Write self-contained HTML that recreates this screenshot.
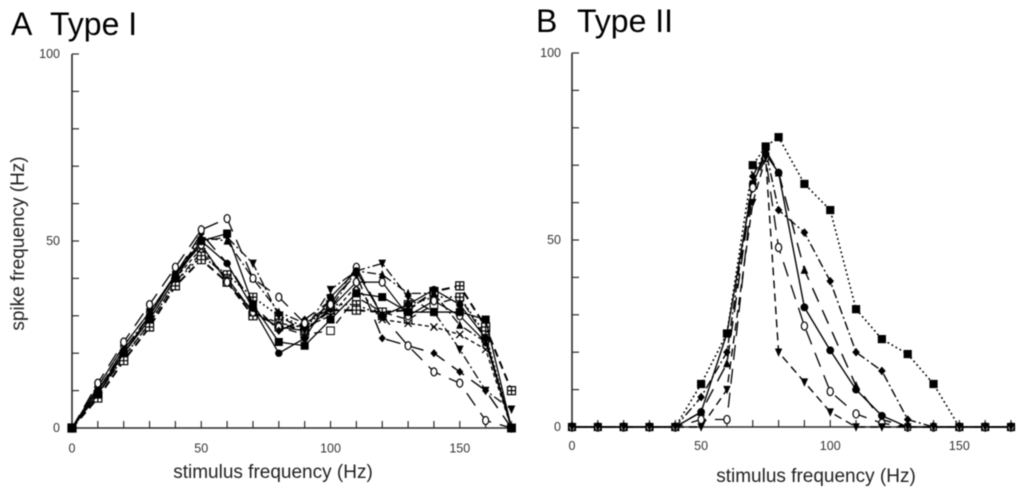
<!DOCTYPE html>
<html>
<head>
<meta charset="utf-8">
<style>
html,body{margin:0;padding:0;background:#fff;width:1024px;height:494px;overflow:hidden}
svg{display:block;font-family:"Liberation Sans",sans-serif}
</style>
</head>
<body>
<svg id="fig" width="1024" height="494" viewBox="0 0 1024 494" xmlns="http://www.w3.org/2000/svg">
<rect width="1024" height="494" fill="#fff"/>
<g id="root" style="filter:blur(0.55px)">
<text x="11" y="35" font-size="32" fill="#000">A</text>
<text x="50" y="35" font-size="32" fill="#000">Type I</text>
<text x="536" y="32" font-size="32" fill="#000">B</text>
<text x="577" y="32" font-size="32" fill="#000">Type II</text>
<text transform="translate(24 243.5) rotate(-90)" text-anchor="middle" font-size="19" fill="#222">spike frequency (Hz)</text>
<text x="273" y="478" text-anchor="middle" font-size="19" fill="#222">stimulus frequency (Hz)</text>
<text x="816" y="482" text-anchor="middle" font-size="19" fill="#222">stimulus frequency (Hz)</text>
</g>
</svg>
<script>
var xTicks = [0,10,20,30,40,50,60,70,80,90,100,110,120,130,140,150,160,170];
var yTicks = [0,10,20,30,40,50,60,70,80,90,100];
var xLabels = [0,50,100,150];
var yLabels = [0,50,100];

var freqA = [0,10,20,30,40,50,60,70,80,90,100,110,120,130,140,150,160,170];
var openSquareA   = [0,9,19,28,39,47,40,31,27,25,26,35,31,29,33,35,24,0];
var hatchedTwoA   = [0,9,19,28,39,46,41,35,30,27,33,33,30,33,35,35,25,0];
var hatchedOneA   = [0,8,18,27,38,45,39,30,28,26,31.5,31.5,31,31.5,36.5,38,27,10];
var crossA        = [0,10,20,29,40,48,40,31,28,27,30,38,29,28,27,25,21,0];
var openCircleTwoA= [0,11,22,31,41,49,39,31,27,26,32,39,39,30,34,30,23,0];
var triangleA     = [0,10,21,30,41,51,50,40,31,28,32,42,41,36,36,27.5,23,0];
var invTriangleA  = [0,11,22,31,41,50,51,44,30,26,37,42,44,35,31,21,10,5];
var diamondA      = [0,10,21,30,41,52,44,33,26,29,34,41,24,22,20,15,10,0];
var openCircleA   = [0,12,23,33,43,53,56,40,35,28,33,43,30,22,15,12,2,0];
var circleA       = [0,10,20,30,41,50,44,32,20,24,35,42,30,33,37,33,24,0];
var squareA       = [0,9,20,29,40,50,52,33,23,22,29,36,35,31,31,31,29,0];

var freqB = [0,10,20,30,40,50,60,70,75,80,90,100,110,120,130,140,150,160,170];
var squareB      = [0,0,0,0,0,11.5,25,70,75,77.5,65,58,31.5,23.5,19.5,11.5,0,0,0];
var diamondB     = [0,0,0,0,0,8,20,67,74,58,52,39,20,15,2,0,0,0,0];
var triangleB    = [0,0,0,0,0,4,17,65,74,68,42,null,11,2,0,0,0,0,0];
var circleB      = [0,0,0,0,0,4,25,65,73,68,32,20.5,10,3,0,0,0,0,0];
var openCircleB  = [0,0,0,0,0,2,2,64,72,48,27,9.5,3.5,1,0,0,0,0,0];
var invTriangleB = [0,0,0,0,0,0,10,60,72,20,12,4,0,0,0,0,0,0,0];

function scale(d0, d1, r0, r1) {
  return function (v) { return r0 + (v - d0) * (r1 - r0) / (d1 - d0); };
}
var NS = 'http://www.w3.org/2000/svg';
var root = document.getElementById('root');
function mk(tag, attrs, parent) {
  var e = document.createElementNS(NS, tag);
  for (var k in attrs) e.setAttribute(k, attrs[k]);
  (parent || root).appendChild(e);
  return e;
}

var DASH = {solid:'', long:'13 6', med:'8 5', short:'4 3', dot:'1.8 2.8', dashdot:'9 3 2 3', longgap:'15 9'};

function drawMarker(g, kind, x, y, r) {
  var c = '#000', m;
  if (kind === 'circle') {
    m = mk('circle', {cx:x, cy:y, r:r, fill:c}, g);
  } else if (kind === 'openCircle') {
    m = mk('ellipse', {cx:x, cy:y, rx:r-0.8, ry:r+0.2, fill:'#fff', stroke:c, 'stroke-width':1.2}, g);
  } else if (kind === 'square') {
    m = mk('rect', {x:x-r, y:y-r, width:2*r, height:2*r, fill:c}, g);
  } else if (kind === 'openSquare') {
    m = mk('rect', {x:x-r, y:y-r, width:2*r, height:2*r, fill:'#fff', stroke:c, 'stroke-width':1}, g);
  } else if (kind === 'hatched') {
    m = mk('path', {d:'M'+(x-r)+' '+(y-r)+'h'+2*r+'v'+2*r+'h'+(-2*r)+'zM'+x+' '+(y-r)+'v'+2*r+'M'+(x-r)+' '+y+'h'+2*r, fill:'#fff', stroke:c, 'stroke-width':1.2}, g);
  } else if (kind === 'triangle') {
    m = mk('path', {d:'M'+x+' '+(y-r-1)+'L'+(x+r)+' '+(y+r)+'L'+(x-r)+' '+(y+r)+'z', fill:c}, g);
  } else if (kind === 'invTriangle') {
    m = mk('path', {d:'M'+x+' '+(y+r+1)+'L'+(x+r)+' '+(y-r)+'L'+(x-r)+' '+(y-r)+'z', fill:c}, g);
  } else if (kind === 'diamond') {
    m = mk('path', {d:'M'+x+' '+(y-r-0.5)+'L'+(x+r)+' '+y+'L'+x+' '+(y+r+0.5)+'L'+(x-r)+' '+y+'z', fill:c}, g);
  } else {
    m = mk('path', {d:'M'+(x-r)+' '+(y-r)+'L'+(x+r)+' '+(y+r)+'M'+(x+r)+' '+(y-r)+'L'+(x-r)+' '+(y+r), fill:'none', stroke:c, 'stroke-width':1.3}, g);
  }
  
  
}

function drawSeries(name, xs, vals, sx, sy, kind, dash, width, r) {
  var g = mk('g', {});
  
  
  var pts = [];
  vals.forEach(function (v, i) { if (v !== null) pts.push(sx(xs[i]) + ',' + sy(v)); });
  var line = mk('polyline', {points:pts.join(' '), fill:'none', stroke:'#000', 'stroke-width':width, 'stroke-dasharray':DASH[dash]}, g);
  
  
  vals.forEach(function (v, i) { if (v !== null) drawMarker(g, kind, sx(xs[i]), sy(v), r); });
}

function drawAxes(prefix, sx, sy, xLabelY, yLabelX) {
  var col = '#2a2a2a';
  var xa = mk('line', {x1:sx(0), x2:sx(170), y1:sy(0), y2:sy(0), stroke:col, 'stroke-width':1.6});
  
  
  var ya = mk('line', {x1:sx(0), x2:sx(0), y1:sy(0), y2:sy(100), stroke:col, 'stroke-width':1.6});
  
  
  xTicks.forEach(function (t) {
    var l = mk('line', {x1:sx(t), x2:sx(t), y1:sy(0), y2:sy(0)-7, stroke:col, 'stroke-width':1.2});
    
    
  });
  yTicks.forEach(function (t) {
    var l = mk('line', {x1:sx(0), x2:sx(0)+7, y1:sy(t), y2:sy(t), stroke:col, 'stroke-width':1.2});
    
    
  });
  xLabels.forEach(function (t) {
    var l = mk('text', {x:sx(t), y:xLabelY, 'text-anchor':'middle', 'font-size':12.5, fill:'#333'});
    l.textContent = t;
    
    
  });
  yLabels.forEach(function (t) {
    var l = mk('text', {x:yLabelX, y:sy(t)+4, 'text-anchor':'end', 'font-size':12.5, fill:'#333'});
    l.textContent = t;
    
    
  });
}

var axA = scale(0, 170, 72, 511.5);
var ayA = scale(0, 100, 428, 54);
var axB = scale(0, 170, 572, 1011);
var ayB = scale(0, 100, 427, 53);

drawAxes('panel-a', axA, ayA, 452.5, 60);
drawAxes('panel-b', axB, ayB, 450, 561);

drawSeries('a-open-square', freqA, openSquareA, axA, ayA, 'openSquare', 'med', 1.3, 3.8);
drawSeries('a-hatched-two', freqA, hatchedTwoA, axA, ayA, 'hatched', 'dot', 1.6, 3.8);
drawSeries('a-hatched-one', freqA, hatchedOneA, axA, ayA, 'hatched', 'med', 2, 4);
drawSeries('a-cross', freqA, crossA, axA, ayA, 'cross', 'short', 1.3, 3.5);
drawSeries('a-open-circle-two', freqA, openCircleTwoA, axA, ayA, 'openCircle', 'solid', 1.2, 3.8);
drawSeries('a-triangle', freqA, triangleA, axA, ayA, 'triangle', 'dashdot', 1.3, 3.6);
drawSeries('a-inv-triangle', freqA, invTriangleA, axA, ayA, 'invTriangle', 'dashdot', 1.3, 3.8);
drawSeries('a-diamond', freqA, diamondA, axA, ayA, 'diamond', 'longgap', 1.4, 3.6);
drawSeries('a-open-circle', freqA, openCircleA, axA, ayA, 'openCircle', 'longgap', 1.3, 3.8);
drawSeries('a-circle', freqA, circleA, axA, ayA, 'circle', 'solid', 1.3, 3.7);
drawSeries('a-square', freqA, squareA, axA, ayA, 'square', 'solid', 1.3, 4);

drawSeries('b-square', freqB, squareB, axB, ayB, 'square', 'dot', 1.6, 4.1);
drawSeries('b-diamond', freqB, diamondB, axB, ayB, 'diamond', 'dashdot', 1.4, 3.8);
drawSeries('b-triangle', freqB, triangleB, axB, ayB, 'triangle', 'longgap', 1.4, 3.8);
drawSeries('b-circle', freqB, circleB, axB, ayB, 'circle', 'solid', 1.4, 3.9);
drawSeries('b-open-circle', freqB, openCircleB, axB, ayB, 'openCircle', 'longgap', 1.3, 3.9);
drawSeries('b-inv-triangle', freqB, invTriangleB, axB, ayB, 'invTriangle', 'med', 1.4, 3.7);
</script>
</body>
</html>
